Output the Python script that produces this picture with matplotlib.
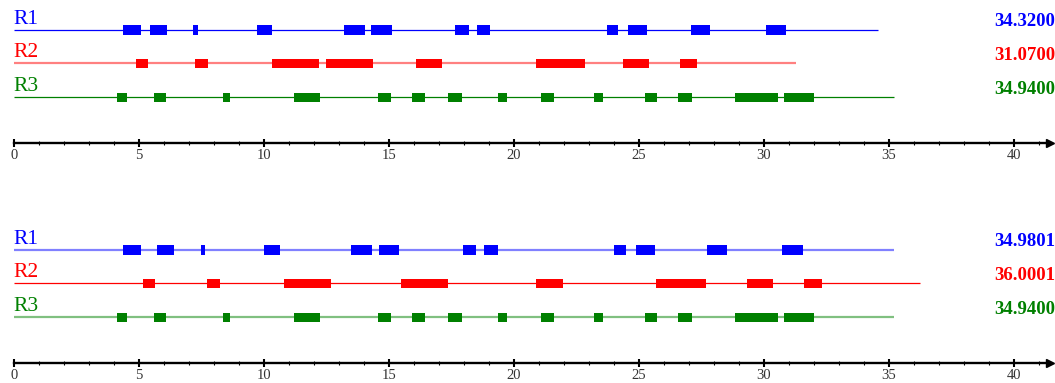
import matplotlib
matplotlib.use("Agg")
import matplotlib.pyplot as plt

# ---------------- data ----------------
track_names = ["R1", "R2", "R3"]
track_colors = ["#0000ff", "#ff0000", "#008000"]

# panel 1
p1_values = ["34.3200", "31.0700", "34.9400"]
p1_lengths = [34.57, 31.28, 35.19]
p1_r1 = [(4.35, 5.09), (5.43, 6.12), (7.17, 7.36), (9.72, 10.33), (13.19, 14.04),
         (14.29, 15.12), (17.65, 18.20), (18.52, 19.05), (23.72, 24.16),
         (24.57, 25.33), (27.07, 27.84), (30.07, 30.89)]
p1_r2 = [(4.87, 5.35), (7.24, 7.76), (10.31, 12.20), (12.47, 14.37), (16.08, 17.13),
         (20.88, 22.84), (24.35, 25.41), (26.64, 27.33)]
p1_r3 = [(4.12, 4.53), (5.60, 6.08), (8.35, 8.64), (11.20, 12.24), (14.56, 15.08),
         (15.92, 16.45), (17.36, 17.91), (19.37, 19.72), (21.08, 21.60),
         (23.19, 23.56), (25.24, 25.72), (26.55, 27.12), (28.85, 30.57), (30.81, 32.00)]

# panel 2
p2_values = ["34.9801", "36.0001", "34.9400"]
p2_lengths = [35.20, 36.24, 35.19]
p2_r1 = [(4.35, 5.09), (5.72, 6.39), (7.48, 7.64), (10.01, 10.63), (13.49, 14.32),
         (14.60, 15.41), (17.96, 18.49), (18.81, 19.35), (24.01, 24.47),
         (24.88, 25.63), (27.72, 28.51), (30.72, 31.55)]
p2_r2 = [(5.16, 5.65), (7.72, 8.24), (10.79, 12.68), (15.48, 17.37), (20.88, 21.95),
         (25.68, 27.67), (29.31, 30.37), (31.60, 32.31)]
p2_r3 = list(p1_r3)

# which track is highlighted (full colour thin line) per panel
p1_faded = [False, True, False]
p2_faded = [True, False, True]

ruler_major = list(range(0, 41, 5))
ruler_minor = list(range(0, 42, 1))

# ---------------- layout ----------------
W, H = 1055, 383
X0_PX, PX_PER_UNIT = 14, 25.0
xmin = (0 - X0_PX) / PX_PER_UNIT
xmax = (W - X0_PX) / PX_PER_UNIT

fig = plt.figure(figsize=(W / 100, H / 100), dpi=100)
ax = fig.add_axes([0, 0, 1, 1])
ax.set_xlim(xmin, xmax)
ax.set_ylim(H, 0)
ax.axis("off")

SERIF = ["Liberation Serif", "DejaVu Serif"]
fade_colors = ["#8080ff", "#ff8080", "#80c080"]

panels = [
    dict(top=0, tracks=[p1_r1, p1_r2, p1_r3], lengths=p1_lengths, values=p1_values,
         faded=p1_faded, axis_y=143.3),
    dict(top=220, tracks=[p2_r1, p2_r2, p2_r3], lengths=p2_lengths, values=p2_values,
         faded=p2_faded, axis_y=363.3),
]
track_offsets = [30.0, 63.4, 97.3]
block_h = 9.5

for p in panels:
    for i, (blocks, length) in enumerate(zip(p["tracks"], p["lengths"])):
        y = p["top"] + track_offsets[i]
        if p["faded"][i]:
            ax.plot([0, length], [y, y], color=fade_colors[i], lw=1.6, solid_capstyle="butt", zorder=1)
        else:
            ax.plot([0, length], [y, y], color=track_colors[i], lw=0.9, solid_capstyle="butt", zorder=1)
        ax.broken_barh([(s, e - s) for s, e in blocks], (y - block_h / 2, block_h),
                       facecolors=track_colors[i], edgecolor="none", zorder=2)
        ax.text(-0.03, y - 6.0, track_names[i], color=track_colors[i], fontsize=15.5,
                family=SERIF, ha="left", va="baseline")
        ax.text(xmax, y - 3.5, p["values"][i], color=track_colors[i], fontsize=13.5,
                family=SERIF, fontweight="bold", ha="right", va="baseline")

    # ruler
    rax = fig.add_axes([0, 1 - p["axis_y"] / H, 1, 0.0001])
    rax.set_xlim(xmin, xmax)
    rax.patch.set_visible(False)
    for s in ["left", "right", "top"]:
        rax.spines[s].set_visible(False)
    rax.spines["bottom"].set_linewidth(1.7)
    rax.spines["bottom"].set_bounds(0, 41.3)
    rax.set_yticks([])
    rax.set_xticks(ruler_major)
    rax.set_xticks(ruler_minor, minor=True)
    rax.set_xticklabels([str(v) for v in ruler_major], family=SERIF, fontsize=10.5, color="#333333")
    rax.tick_params(axis="x", which="major", direction="inout", length=6, width=1.5, pad=1.2)
    rax.tick_params(axis="x", which="minor", direction="inout", length=3, width=0.8)
    rax.plot([41.45], [0], marker=">", markersize=6, color="black", clip_on=False)

fig.savefig("out.png", dpi=100)
